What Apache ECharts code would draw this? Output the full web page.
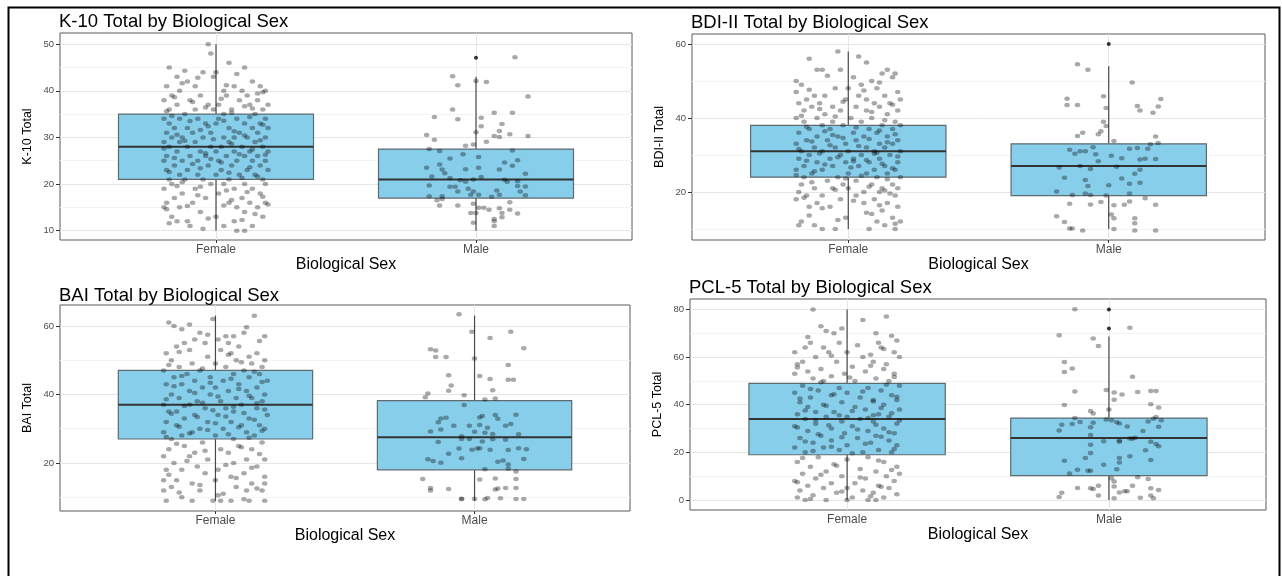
<!DOCTYPE html>
<html>
<head>
<meta charset="utf-8">
<script src="https://cdn.jsdelivr.net/npm/echarts@6/dist/echarts.min.js"></script>
<style>
html,body{margin:0;padding:0;background:#fff;}
#chart{width:1282px;height:576px;}
</style>
</head>
<body>
<div id="chart"></div>
<script>
// ---------- DATA ----------
const CATEGORIES = ['Female', 'Male'];

const K10_TICKS = [10, 20, 30, 40, 50];
const BDI_TICKS = [20, 40, 60];
const BAI_TICKS = [20, 40, 60];
const PCL_TICKS = [0, 20, 40, 60, 80];

// box stats: [lower whisker, Q1, median, Q3, upper whisker]
const K10_BOX_FEMALE = [10, 21, 28, 35, 50];
const K10_BOX_MALE = [10, 17, 21, 27.5, 43];
const BDI_BOX_FEMALE = [10, 24, 31, 38, 58];
const BDI_BOX_MALE = [10, 19, 27, 33, 54];
const BAI_BOX_FEMALE = [9, 27, 37, 47, 63];
const BAI_BOX_MALE = [9, 18, 27.5, 38.2, 63];
const PCL_BOX_FEMALE = [0, 19, 34, 49, 80];
const PCL_BOX_MALE = [0, 10.2, 26, 34.4, 68.7];

const K10_OUTLIERS_MALE = [47.1];
const BDI_OUTLIERS_MALE = [60];
const PCL_OUTLIERS_MALE = [80, 72];

// jittered points: [horizontal jitter offset, score]
const K10_JITTER_FEMALE = [[-0.03,50],[-0.02,48],[0.05,46],[0.11,45],[-0.18,45],
[-0.05,44],[0.0,44],[-0.15,43],[-0.11,42],[0.14,42],[0.17,41],[-0.19,41],[-0.08,41],[0.1,40],[0.19,40],[-0.14,40],[0.03,40],[-0.01,43],[0.07,41],
[-0.17,39],[-0.06,39],[0.04,39],[0.12,39],[0.16,38],[-0.2,38],[-0.1,38],[0.09,38],[-0.03,37],[0.2,37],[-0.15,37],[0.01,37],[0.13,37],[-0.08,36],[0.06,36],[0.18,36],[-0.18,36],[-0.12,35],[0.03,35],[0.15,35],[-0.01,36],
[-0.2,34],[-0.07,34],[0.08,34],[0.19,34],[-0.14,34],[0.0,33],[0.11,33],[-0.18,33],[-0.04,33],[0.17,33],[0.05,32],[-0.11,32],[0.14,32],[-0.16,32],[0.2,32],[-0.02,31],[0.09,31],[-0.09,31],[0.16,31],[-0.19,31],[0.03,30],[-0.13,30],[0.12,30],[-0.05,30],[0.19,30],[0.07,30],[-0.17,30],[0.01,34],
[-0.2,29],[-0.08,29],[0.05,29],[0.15,29],[-0.14,29],[0.1,28],[-0.02,28],[-0.11,28],[0.18,28],[0.02,28],[-0.18,28],[0.13,27],[-0.06,27],[0.07,27],[-0.15,27],[0.2,27],[0.0,27],[-0.1,26],[0.11,26],[-0.19,26],[0.16,26],[0.04,26],[-0.04,26],[0.19,25],[-0.13,25],[0.08,25],[-0.07,25],[-0.2,25],[0.14,25],[0.01,25],
[-0.16,24],[0.06,24],[-0.03,24],[0.17,24],[-0.11,23],[0.12,23],[0.02,23],[-0.19,23],[0.2,23],[-0.07,22],[0.09,22],[-0.14,22],[0.15,22],[0.0,22],[-0.18,21],[0.05,21],[-0.05,21],[0.18,21],[-0.12,21],[0.11,20],[-0.02,20],[0.03,20],[-0.17,20],[0.19,20],
[-0.08,19],[0.14,19],[-0.2,19],[0.07,19],[-0.13,18],[0.17,18],[0.01,18],[-0.04,17],[0.1,17],[-0.16,17],[0.19,16],[-0.19,16],[-0.09,16],[0.05,16],[0.13,16],[-0.14,15],[0.08,15],
[-0.2,15],[0.16,15],[0.11,14],[-0.06,14],[-0.17,13],[0.0,13],[0.18,13],[-0.11,12],[0.07,12],[-0.15,12],[0.14,11],[0.03,11],[-0.1,11],[0.08,10],[0.11,10],[-0.05,10.4],
[-0.12,44.3],[0.08,43.6],[-0.07,42.8],[0.16,39.4],[-0.16,38.6],[0.02,38.3],[0.11,36.7],[-0.04,36.4],[-0.19,35.6],[0.06,35.3],[0.18,39.7],[-0.09,37.6],[0.14,36.2],[-0.13,41.6],[0.04,41.2],
[-0.17,34.6],[-0.1,33.5],[0.03,33.6],[0.13,34.4],[-0.03,32.4],[0.18,32.7],[-0.06,31.6],[0.07,31.3],[-0.15,30.6],[0.11,30.4],[-0.01,29.6],[0.17,29.4],[-0.12,29.3],[0.06,28.6],[-0.2,27.6],[0.14,27.4],[-0.04,26.6],[0.09,26.4],[-0.16,25.6],[0.19,26.3],[0.02,24.6],[-0.09,24.3],[0.13,23.6],[-0.18,22.6],[0.05,22.4],[-0.06,23.4],[0.16,21.6],[-0.13,20.4],[0.1,21.3],[-0.02,25.4],
[-0.15,19.6],[0.04,18.6],[0.12,18.3],[-0.07,17.6],[0.18,17.3],[-0.19,14.6],[0.03,15.4],[-0.11,15.3],[0.15,13.6],[-0.03,12.6],[0.1,12.3],[-0.18,11.6],[0.06,16.6],[-0.06,19.4],[0.2,15.6]];
const K10_JITTER_MALE = [[0.15,47.2],[-0.09,43.1],[-0.07,41.2],[0.0,42.1],[0.04,41.9],[0.2,38.8],[-0.09,36.0],[-0.07,33.9],[-0.16,34.4],[0.02,34.2],[0.07,35.3],[0.14,35.3],[0.1,32.9],[0.02,32.4],[0.09,31.4],[0.0,31.1],[-0.19,30.5],[-0.16,29.5],[0.07,30.3],[0.09,30.1],[0.13,30.7],[0.2,30.3],[0.04,29.1],[-0.04,28.2],[-0.01,28.5],[-0.18,27.5],[-0.14,27.1],[-0.05,26.4],[0.01,25.8],[-0.1,25.5],[0.14,27.2],[0.16,25.1],[0.11,24.6],[-0.14,24.2],[-0.19,23.5],[-0.13,23.1],[-0.12,22.3],[-0.04,23.2],[0.01,23.5],[0.09,23.1],[0.14,23.9],[0.19,22.2],[-0.17,21.6],[-0.1,21.3],[-0.06,20.8],[-0.04,20.5],[-0.01,21.0],[0.02,21.5],[0.11,20.9],[0.12,20.5],[0.16,20.6],[-0.18,19.7],[-0.1,19.4],[-0.08,19.4],[-0.07,18.4],[-0.03,19.0],[-0.01,18.4],[0.08,18.6],[0.16,19.6],[0.17,18.4],[0.19,19.5],[0.19,17.6],[-0.02,17.7],[0.01,17.7],[0.09,17.7],[-0.18,17.4],[-0.13,17.4],[0.06,17.3],[-0.15,16.5],[-0.13,16.8],[-0.14,15.4],[-0.07,15.4],[-0.01,15.8],[0.13,16.1],[0.01,14.9],[0.03,14.9],[0.05,14.5],[0.09,14.8],[0.13,14.5],[0.16,13.7],[-0.02,13.8],[0.0,13.8],[0.1,13.8],[0.1,12.9],[0.07,12.5],[0.07,12.0],[0.07,11.0],[-0.01,11.7]];

const BDI_JITTER_FEMALE = [[-0.04,58],[-0.15,56],[0.07,55],[-0.1,53],[-0.03,53],[0.13,52],[0.15,53],[0.18,52],[-0.12,53],[0.02,51],[-0.2,50],[0.09,50],[0.17,51],
[-0.18,49],[-0.05,48],[0.0,48],[0.05,49],[0.11,48],[0.19,47],[-0.2,47],[-0.13,46],[-0.09,46],[0.04,46],[0.14,46],[-0.16,45],[0.07,45],[-0.01,45],[0.2,45],[-0.11,44],[0.1,44],[0.16,44],[-0.19,44],[-0.06,43],[0.03,43],[-0.14,43],[0.12,43],[0.19,42],[-0.17,42],[-0.03,42],[0.07,42],[-0.09,41],[0.15,41],
[-0.2,40],[0.01,40],[-0.12,40],[0.09,40],[0.18,39],[-0.06,39],[-0.17,39],[0.05,39],[0.13,38],[-0.1,38],[0.2,38],[-0.02,38],[-0.15,37],[0.08,37],[0.17,37],[-0.07,37],[0.02,36],[-0.19,36],[0.11,36],[-0.12,35],[0.15,35],[-0.04,35],[0.06,35],[0.19,34],[-0.16,34],[-0.08,34],[0.03,34],[0.12,33],[-0.2,33],[-0.01,33],[0.17,33],[-0.13,32],[0.07,32],[-0.05,32],[0.14,32],[-0.18,31],[0.0,31],[0.1,31],[0.2,31],[-0.1,31],
[-0.15,30],[0.05,30],[-0.03,30],[0.16,30],[0.12,29],[-0.19,29],[-0.07,29],[0.02,29],[0.19,28],[-0.12,28],[0.08,28],[-0.01,28],[-0.17,27],[0.14,27],[0.04,27],[-0.06,27],[0.1,26],[-0.2,26],[0.18,26],[-0.1,26],[0.0,25],[-0.14,25],[0.07,25],[0.15,25],[-0.04,24],[0.2,24],[-0.17,24],[0.11,24],
[-0.08,23],[0.03,23],[-0.18,22],[0.17,22],[-0.02,22],[0.09,22],[-0.13,21],[0.13,21],[0.0,21],[-0.06,21],[0.19,21],[-0.19,20],[0.06,20],[0.12,20],[-0.1,19],[0.03,19],[-0.16,19],[0.18,19],[-0.03,18],[0.1,18],[-0.2,18],[0.15,17],[-0.12,17],[0.06,17],[-0.07,16],[0.19,16],[-0.15,16],
[0.13,15],[-0.01,13],[0.09,14],[0.17,13],[-0.18,12],[0.11,12],[0.14,11],[-0.13,11],[0.18,10],[-0.1,10],[-0.05,10],[0.08,10],[0.2,12],[-0.19,11],
[0.04,56.6],[-0.08,51.4],[0.12,49.6],[-0.15,47.6],[0.06,47.4],[-0.02,44.4],[0.17,43.6],[-0.11,42.4],[0.09,41.6],[-0.18,40.6],[0.14,39.4],[-0.05,40.4],
[-0.16,37.6],[0.03,37.4],[0.12,36.6],[-0.09,36.4],[0.18,35.6],[-0.02,34.6],[0.08,34.3],[-0.14,33.6],[0.15,33.4],[-0.07,32.6],[0.04,32.4],[-0.19,31.6],[0.11,30.6],[-0.11,30.4],[0.19,29.6],[-0.04,29.4],[0.07,28.6],[-0.16,28.4],[0.13,27.6],[-0.09,27.4],[0.01,26.6],[0.17,26.4],[-0.13,25.6],[0.05,24.4],[-0.01,23.6],[0.15,23.4],[-0.2,24.6],[0.1,30.3],[-0.06,35.4],[0.02,28.3],
[-0.14,22.6],[0.08,21.4],[-0.05,20.6],[0.16,19.6],[-0.17,18.4],[0.02,17.6],[0.12,16.4],[-0.1,15.6],[0.07,14.4],[-0.15,13.6],[0.18,11.4],[-0.04,12.4],[0.14,20.4]];
const BDI_JITTER_MALE = [[-0.12,54.5],[-0.08,53.0],[0.09,49.6],[-0.16,45.2],[-0.16,43.5],[-0.12,43.5],[-0.02,45.9],[-0.01,42.7],[0.11,43.2],[0.12,42.0],[0.19,43.1],[0.2,45.1],[0.17,41.4],[-0.02,39.0],[-0.01,37.8],[-0.03,36.4],[-0.04,35.6],[-0.1,36.0],[-0.12,35.1],[0.18,35.0],[0.02,33.8],[0.16,32.9],[0.19,33.2],[-0.15,31.4],[-0.13,30.3],[-0.11,31.0],[-0.09,31.0],[-0.06,32.1],[-0.05,30.2],[-0.04,28.3],[0.01,29.8],[0.05,29.1],[0.08,31.7],[0.11,31.9],[0.15,31.7],[0.12,28.8],[0.14,29.0],[0.18,28.9],[-0.19,26.6],[-0.11,27.0],[-0.07,26.2],[0.03,26.8],[0.12,26.0],[0.1,24.9],[-0.17,23.8],[-0.09,23.2],[-0.08,21.6],[0.0,21.8],[0.05,23.6],[0.08,22.2],[0.12,22.5],[-0.2,20.1],[-0.14,19.2],[-0.09,19.6],[-0.07,19.2],[-0.01,19.0],[0.08,19.6],[0.14,18.3],[-0.15,16.8],[-0.07,16.6],[-0.03,17.3],[0.02,16.4],[0.06,16.5],[0.08,17.4],[0.18,16.5],[0.01,13.9],[0.02,12.9],[0.1,12.9],[0.1,11.5],[-0.2,13.4],[-0.17,11.9],[-0.15,10.1],[-0.14,10.1],[-0.1,9.6],[0.02,10.0],[0.1,9.6],[0.18,9.6]];

const BAI_JITTER_FEMALE = [[0.15,63],[-0.01,62],[-0.18,61],[-0.16,60],[-0.13,59],[0.04,57],[0.07,57],[0.19,57],[-0.06,58],[0.11,58],[-0.08,56],[-0.04,55],[0.01,56],[0.05,55],[-0.15,54],[-0.12,55],[0.09,54],[0.16,52],[-0.1,53],[0.02,53],[0.06,52],[-0.19,52],[0.13,51],[0.19,50],[-0.03,51],[-0.17,50],[0.08,50],[-0.09,49],[0.14,49],[0.0,49],[-0.14,48],[0.18,48],[0.04,48],[-0.06,47],
[0.11,47],[-0.2,47],[-0.11,46],[0.07,46],[0.17,46],[-0.02,45],[-0.16,45],[0.13,45],[0.03,44],[-0.08,44],[0.2,44],[-0.13,43],[0.09,43],[-0.19,43],[0.0,42],[0.16,42],[-0.05,42],[-0.1,41],[0.12,41],[0.05,41],[-0.17,40],[0.19,40],[-0.02,40],[0.08,39],[-0.14,39],[0.14,39],[-0.07,38],[0.02,38],[0.18,38],[-0.2,37],[-0.1,37],[0.1,37],[0.04,36],[-0.04,36],[0.16,36],[-0.15,35],[0.07,35],[-0.18,35],[0.2,34],[-0.08,34],[0.01,34],[0.13,33],[-0.12,33],[-0.19,32],[0.06,32],[-0.03,32],[0.17,31],[-0.15,31],[0.1,31],[-0.06,30],[0.03,30],[0.19,30],[-0.2,29],[0.12,29],[-0.09,29],[0.0,28],[0.15,28],[-0.13,28],[0.07,27],[-0.17,27],
[-0.05,26],[0.18,26],[-0.12,25],[0.09,25],[0.02,24],[-0.18,24],[0.14,24],[-0.08,23],[0.05,23],[-0.2,22],[0.19,21],[-0.1,22],[0.12,21],[-0.03,21],[-0.16,20],[0.07,20],[-0.07,19],[0.16,19],[0.01,18],[-0.19,18],[-0.13,18],[0.11,17],[-0.04,17],[0.19,16],[-0.15,15],[0.06,16],[-0.2,15],[0.14,14],[0.0,15],[-0.09,14],[0.19,14],[-0.17,13],[0.08,13],[-0.06,12],[0.12,12],[-0.2,12],[0.18,12],[0.03,11],[-0.13,10],[-0.01,9],[0.02,9],[0.06,9],[-0.19,9],[0.13,9],[0.19,9],[-0.09,9],
[-0.1,60.4],[0.12,59.6],[-0.03,57.4],[0.17,55.6],[-0.14,52.4],[0.05,51.6],[0.1,49.4],[-0.18,48.6],[-0.05,47.6],
[0.15,46.6],[-0.13,45.4],[0.06,44.6],[-0.02,43.4],[0.18,43.6],[-0.16,42.4],[0.09,41.6],[-0.08,40.4],[0.13,39.6],[0.01,39.4],[-0.19,38.6],[0.16,37.4],[-0.05,37.6],[0.07,36.4],[-0.12,36.6],[0.19,35.6],[-0.01,35.4],[0.11,34.6],[-0.17,34.4],[0.04,33.6],[-0.07,33.4],[0.15,32.6],[-0.14,30.6],[0.09,30.4],[-0.03,29.6],[0.18,29.4],[-0.1,28.6],[0.05,28.4],[-0.19,27.6],[0.13,27.4],[0.0,31.6],
[-0.15,25.6],[0.1,24.6],[-0.04,23.6],[0.17,22.6],[-0.11,20.6],[0.04,19.4],[0.14,18.6],[-0.18,16.6],[0.08,15.6],[-0.06,13.6],[0.16,12.6],[-0.14,11.4],[0.01,10.6],[0.11,9.4]];
const BAI_JITTER_MALE = [[-0.06,63.4],[-0.01,58.3],[0.06,56.5],[0.14,58.3],[-0.17,53.2],[-0.15,52.8],[-0.15,50.9],[-0.11,50.9],[0.0,50.5],[0.19,53.5],[0.13,48.6],[-0.1,45.6],[0.02,45.4],[0.06,44.5],[0.13,44.3],[0.15,44.3],[-0.09,42.6],[-0.1,41.1],[0.07,41.2],[-0.19,39.2],[-0.18,40.3],[-0.04,39.8],[0.04,38.5],[0.08,38.8],[-0.04,36.9],[-0.14,31.9],[-0.13,33.0],[-0.11,33.2],[0.02,33.3],[0.03,33.7],[0.08,34.0],[0.09,32.9],[0.16,34.1],[-0.17,29.2],[-0.13,29.8],[-0.08,30.9],[-0.02,30.9],[0.02,31.1],[0.05,30.3],[0.0,29.1],[0.04,28.8],[0.07,28.5],[0.12,30.9],[0.14,31.4],[-0.05,27.8],[-0.02,27.0],[-0.05,27.0],[0.03,26.3],[0.07,26.9],[0.12,26.8],[0.17,28.4],[-0.14,26.1],[-0.06,24.2],[-0.01,23.9],[0.01,24.2],[0.02,24.3],[0.06,23.9],[0.13,23.8],[0.17,24.3],[0.2,24.0],[-0.1,22.7],[-0.05,21.4],[-0.18,21.1],[-0.16,20.6],[-0.13,20.1],[0.09,20.4],[0.11,20.7],[0.19,21.2],[0.13,19.6],[0.04,18.2],[0.13,18.3],[0.16,17.5],[-0.2,15.3],[0.02,15.2],[0.08,15.5],[0.16,15.3],[-0.17,12.7],[-0.17,12.0],[-0.1,12.4],[0.08,12.3],[0.09,12.6],[0.12,12.7],[0.16,12.7],[-0.05,9.6],[-0.05,9.5],[0.0,9.5],[0.04,9.4],[0.05,9.8],[0.1,9.7],[0.16,9.5],[0.19,9.5]];

const PCL_JITTER_FEMALE = [[-0.13,80],[0.15,77],[-0.1,73],[-0.08,71],[-0.02,72],[-0.05,70],[0.11,70],[0.17,69],[-0.14,66],[0.12,66],[-0.03,66],[0.19,67],[-0.16,64],[-0.09,64],[0.04,65],[0.13,64],[-0.2,62],[-0.07,62],[0.0,62],[0.18,62],[0.09,61],[-0.12,60],[0.06,60],[0.2,60],[-0.17,58],[-0.04,58],[0.1,58],[0.15,57],[-0.19,57],[0.02,56],[-0.1,55],[0.14,55],[-0.15,54],[0.07,54],[-0.01,53],[0.18,53],[-0.2,53],[-0.06,52],[0.11,51],[-0.13,51],[0.03,50],[0.16,50],[-0.09,50],
[0.2,48],[-0.17,48],[-0.03,47],[0.08,47],[0.13,46],[-0.11,46],[0.0,45],[-0.2,45],[0.17,44],[-0.06,44],[0.05,43],[-0.14,43],[0.1,42],[0.19,42],[-0.02,41],[-0.18,41],[0.14,40],[-0.09,40],[0.03,39],[-0.15,39],[0.2,38],[0.07,38],[-0.05,37],[-0.12,37],[0.12,36],[-0.19,36],[0.0,35],[0.16,35],[-0.08,35],[0.05,34],[-0.16,34],[0.1,33],[-0.02,33],[0.19,32],[-0.12,32],[0.02,31],[-0.2,31],[0.14,30],[-0.06,30],[0.08,29],[-0.15,29],[0.18,28],[-0.01,28],[-0.1,27],[0.11,27],[-0.18,26],[0.04,26],[0.16,25],[-0.06,25],[-0.13,24],[0.09,24],[0.0,23],[0.19,23],[-0.2,22],[-0.09,22],[0.12,21],[-0.03,21],[0.06,20],[-0.16,20],[0.17,20],
[-0.11,18],[0.08,18],[0.0,17],[0.14,16],[-0.19,16],[-0.05,15],[0.19,14],[-0.14,14],[0.05,13],[-0.08,12],[0.11,12],[0.2,11],[-0.17,11],[-0.02,10],[0.15,10],[-0.12,9],[0.07,9],[-0.2,8],[0.18,8],[-0.06,7],[0.03,7],[-0.15,6],[0.12,6],[0.0,5],[-0.09,5],[0.16,5],[-0.18,4],[0.06,4],[-0.04,3],[0.1,3],[-0.13,2],[0.14,1],[-0.19,1],[0.02,1],[-0.08,0],[0.08,0],[0.11,0],[-0.16,0],[0.0,0],
[0.06,75.6],[-0.15,68.4],[0.14,63.4],[-0.06,60.6],[0.09,56.4],[-0.19,55.6],[0.18,51.6],[-0.1,49.4],[0.01,51.4],
[0.15,48.4],[-0.14,46.6],[0.06,45.6],[-0.05,44.4],[0.19,43.4],[-0.18,42.6],[0.1,41.4],[-0.08,39.6],[0.13,38.6],[0.02,37.4],[-0.16,37.6],[0.17,36.4],[-0.03,35.6],[0.08,34.4],[-0.12,33.6],[0.2,33.4],[-0.07,31.4],[0.11,31.6],[-0.19,30.4],[0.04,29.6],[0.16,28.4],[-0.11,27.6],[-0.02,26.4],[0.13,26.6],[-0.16,24.6],[0.07,23.6],[-0.06,22.4],[0.18,21.4],[-0.13,20.6],[0.02,19.6],[0.1,35.6],
[-0.17,17.6],[0.12,16.6],[-0.04,14.4],[0.17,12.6],[-0.1,10.6],[0.05,9.4],[-0.19,7.4],[0.13,5.6],[-0.02,3.6],[0.09,1.6],[-0.14,0.4],[0.19,2.4]];
const PCL_JITTER_MALE = [[-0.13,80.1],[0.08,72.3],[-0.19,69.2],[-0.06,67.8],[-0.04,64.7],[-0.17,57.9],[-0.17,53.7],[-0.14,55.2],[0.09,51.7],[-0.13,45.6],[-0.01,46.2],[0.02,45.1],[0.05,44.3],[0.11,45.3],[0.16,45.8],[0.18,45.8],[0.02,42.1],[-0.17,39.9],[0.16,40.2],[0.19,38.8],[0.0,38.0],[-0.07,37.4],[-0.06,36.3],[-0.13,34.4],[-0.11,32.7],[-0.14,31.9],[-0.18,31.6],[-0.19,29.2],[-0.07,30.5],[-0.06,32.4],[-0.01,33.8],[0.01,33.5],[0.03,32.6],[0.04,32.1],[0.07,30.9],[0.15,33.0],[0.17,34.1],[0.18,34.9],[0.2,33.5],[0.19,30.8],[0.13,29.0],[-0.07,27.3],[0.08,25.8],[0.09,25.7],[0.1,26.1],[0.04,25.0],[-0.02,24.7],[0.16,24.5],[0.18,23.5],[0.19,22.6],[-0.07,23.2],[0.04,24.5],[0.14,20.9],[-0.07,19.7],[0.08,18.4],[0.04,17.6],[-0.09,17.6],[-0.17,16.5],[0.16,16.8],[0.04,15.7],[-0.02,14.8],[-0.12,12.7],[-0.08,12.3],[-0.07,12.3],[-0.15,11.1],[0.03,12.9],[0.01,9.1],[0.02,7.8],[0.02,5.7],[0.11,9.5],[0.15,8.8],[-0.12,5.0],[-0.07,4.9],[-0.06,4.6],[-0.04,6.0],[0.09,6.0],[0.16,4.9],[0.19,4.2],[0.04,3.1],[0.06,3.7],[0.07,3.7],[-0.18,3.0],[-0.19,1.3],[-0.04,1.9],[0.02,0.7],[0.12,0.9],[0.16,1.9],[0.17,0.7]];

// ---------- LAYOUT / STYLE ----------
const FONT = "'Liberation Sans', Arial, sans-serif";
const PANELS = [
  {title:'K-10 Total by Biological Sex', yName:'K-10 Total', ticks:K10_TICKS, yMin:8.0, yMax:52.4,
   boxes:[K10_BOX_FEMALE, K10_BOX_MALE], jitter:[K10_JITTER_FEMALE, K10_JITTER_MALE], outliers:[[], K10_OUTLIERS_MALE],
   grid:{left:60, top:33, width:572, height:207}, titlePos:{left:59, top:12}},
  {title:'BDI-II Total by Biological Sex', yName:'BDI-II Total', ticks:BDI_TICKS, yMin:7.0, yMax:62.7,
   boxes:[BDI_BOX_FEMALE, BDI_BOX_MALE], jitter:[BDI_JITTER_FEMALE, BDI_JITTER_MALE], outliers:[[], BDI_OUTLIERS_MALE],
   grid:{left:692, top:34, width:573, height:206}, titlePos:{left:691, top:13}},
  {title:'BAI Total by Biological Sex', yName:'BAI Total', ticks:BAI_TICKS, yMin:6.0, yMax:66.1,
   boxes:[BAI_BOX_FEMALE, BAI_BOX_MALE], jitter:[BAI_JITTER_FEMALE, BAI_JITTER_MALE], outliers:[[], []],
   grid:{left:60, top:305, width:570, height:206}, titlePos:{left:59, top:286}},
  {title:'PCL-5 Total by Biological Sex', yName:'PCL-5 Total', ticks:PCL_TICKS, yMin:-4.2, yMax:84.4,
   boxes:[PCL_BOX_FEMALE, PCL_BOX_MALE], jitter:[PCL_JITTER_FEMALE, PCL_JITTER_MALE], outliers:[[], PCL_OUTLIERS_MALE],
   grid:{left:690, top:299, width:576, height:211}, titlePos:{left:689, top:278}}
];
const BOX_HALF_WIDTH = 0.375;
const CAT_POS = CATEGORIES.map((c, i) => i + 1);

function minorTicks(ticks, lo, hi) {
  const step = ticks[1] - ticks[0];
  const out = [];
  for (let i = -1; i < ticks.length; i++) {
    const m = ticks[0] + step * i + step / 2;
    if (m > lo && m < hi) out.push(m);
  }
  return out;
}

const chart = echarts.init(document.getElementById('chart'), null, {renderer: 'canvas'});

const option = {
  backgroundColor: '#ffffff',
  animation: false,
  title: [], grid: [], xAxis: [], yAxis: [], series: [],
  graphic: [{
    type: 'rect', z: 100, silent: true,
    shape: {x: 8.5, y: 7.5, width: 1271, height: 640},
    style: {fill: 'none', stroke: '#000', lineWidth: 2}
  }]
};

PANELS.forEach((p, i) => {
  option.title.push({
    text: p.title, left: p.titlePos.left, top: p.titlePos.top, padding: 0,
    textStyle: {fontFamily: FONT, fontSize: 18.5, fontWeight: 'normal', color: '#000'}
  });
  option.grid.push(Object.assign({show: true, borderColor: '#5a5a5a', borderWidth: 1, backgroundColor: '#fff', containLabel: false}, p.grid));
  option.xAxis.push({
    type: 'value', gridIndex: i, min: 0.4, max: 2.6,
    axisLine: {show: false}, splitLine: {show: false},
    axisTick: {show: true, customValues: CAT_POS, length: 3, lineStyle: {color: '#333', width: 1}},
    axisLabel: {show: true, customValues: CAT_POS, formatter: v => CATEGORIES[Math.round(v) - 1] || '',
      fontFamily: FONT, fontSize: 12, color: '#4d4d4d', margin: 4},
    name: 'Biological Sex', nameLocation: 'middle', nameGap: 14,
    nameTextStyle: {fontFamily: FONT, fontSize: 16, color: '#000'}
  });
  option.yAxis.push({
    type: 'value', gridIndex: i, min: p.yMin, max: p.yMax,
    axisLine: {show: false}, splitLine: {show: false},
    axisTick: {show: true, customValues: p.ticks, length: 4, lineStyle: {color: '#333', width: 1}},
    axisLabel: {show: true, customValues: p.ticks, fontFamily: FONT, fontSize: 9.5, color: '#4d4d4d', margin: 6},
    name: p.yName, nameLocation: 'middle', nameRotate: 90, nameGap: 26,
    nameTextStyle: {fontFamily: FONT, fontSize: 12.5, color: '#000'}
  });

  const minors = minorTicks(p.ticks, p.yMin, p.yMax);
  const gridLines = []
    .concat(minors.map(v => ({yAxis: v, lineStyle: {color: '#f4f4f4', width: 1, type: 'solid'}})))
    .concat(p.ticks.map(v => ({yAxis: v, lineStyle: {color: '#e6e6e6', width: 1, type: 'solid'}})))
    .concat(CAT_POS.map(v => ({xAxis: v, lineStyle: {color: '#e6e6e6', width: 1, type: 'solid'}})));
  option.series.push({
    type: 'scatter', xAxisIndex: i, yAxisIndex: i, z: 1, data: [], silent: true,
    markLine: {z: 1, silent: true, symbol: ['none', 'none'], label: {show: false}, animation: false, data: gridLines}
  });

  option.series.push({
    type: 'custom', xAxisIndex: i, yAxisIndex: i, z: 2, silent: true,
    encode: {x: 0, y: [1, 2, 3, 4, 5]},
    data: p.boxes.map((b, k) => [CAT_POS[k]].concat(b)),
    renderItem: function (params, api) {
      const x = api.value(0), lo = api.value(1), q1 = api.value(2), med = api.value(3), q3 = api.value(4), hi = api.value(5);
      const pLo = api.coord([x, lo]), pQ1 = api.coord([x, q1]), pQ3 = api.coord([x, q3]), pHi = api.coord([x, hi]);
      const a = api.coord([x - BOX_HALF_WIDTH, q3]), b = api.coord([x + BOX_HALF_WIDTH, q1]);
      const mL = api.coord([x - BOX_HALF_WIDTH, med]), mR = api.coord([x + BOX_HALF_WIDTH, med]);
      return {
        type: 'group', children: [
          {type: 'line', shape: {x1: pLo[0], y1: pLo[1], x2: pQ1[0], y2: pQ1[1]}, style: {stroke: '#4a4a4a', lineWidth: 1.2}},
          {type: 'line', shape: {x1: pQ3[0], y1: pQ3[1], x2: pHi[0], y2: pHi[1]}, style: {stroke: '#4a4a4a', lineWidth: 1.2}},
          {type: 'rect', shape: {x: a[0], y: a[1], width: b[0] - a[0], height: b[1] - a[1]},
            style: {fill: '#87CEEB', stroke: '#5f6a70', lineWidth: 1.2}},
          {type: 'line', shape: {x1: mL[0], y1: mL[1], x2: mR[0], y2: mR[1]}, style: {stroke: '#333', lineWidth: 2}}
        ]
      };
    }
  });

  const pts = [];
  p.jitter.forEach((arr, k) => arr.forEach(d => pts.push([CAT_POS[k] + d[0], d[1]])));
  option.series.push({
    type: 'scatter', xAxisIndex: i, yAxisIndex: i, z: 3, silent: true,
    symbol: 'circle', symbolSize: [5.5, 4.5],
    itemStyle: {color: 'rgba(0,0,0,0.42)'},
    data: pts
  });

  const outs = [];
  p.outliers.forEach((arr, k) => arr.forEach(v => outs.push([CAT_POS[k], v])));
  option.series.push({
    type: 'scatter', xAxisIndex: i, yAxisIndex: i, z: 4, silent: true,
    symbol: 'circle', symbolSize: 4,
    itemStyle: {color: '#000'},
    data: outs
  });
});

chart.setOption(option);
</script>
</body>
</html>
